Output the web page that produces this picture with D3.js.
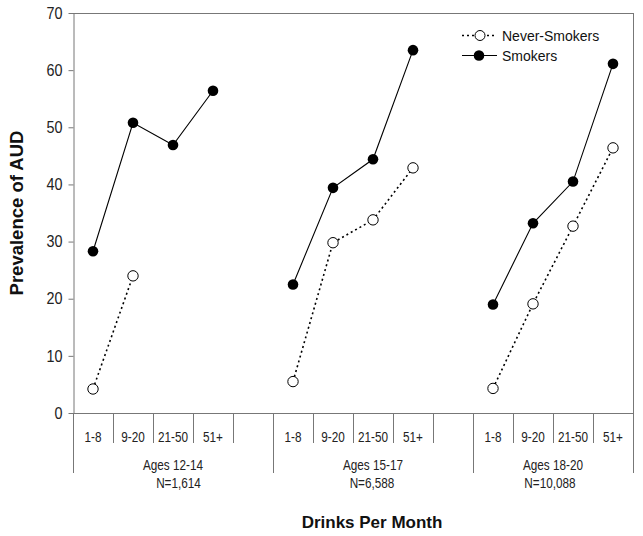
<!DOCTYPE html>
<html><head><meta charset="utf-8">
<script src="https://cdn.jsdelivr.net/npm/d3@7"></script>
<style>body{margin:0;background:#fff}svg{display:block;font-family:Arial,"Liberation Sans",sans-serif}</style>
</head><body><svg id="c" width="643" height="536"></svg>
<script>
const groups = ["Ages 12-14","Ages 15-17","Ages 18-20"];
const groupN = ["N=1,614","N=6,588","N=10,088"];
const categories = ["1-8","9-20","21-50","51+"];
const smokers = [[28.3,50.8,46.9,56.4],[22.5,39.4,44.4,63.5],[19.0,33.2,40.5,61.1]];
const neverSmokers = [[4.2,24.0,null,null],[5.5,29.8,33.8,42.9],[4.3,19.1,32.7,46.4]];
const yTicks = [0,10,20,30,40,50,60,70];

const svg = d3.select("#c");
const L=73,R=633,T=13,B=413;
const slotIdx = (g,i)=> g*5+i;
const x = d3.scaleBand().domain(d3.range(14)).range([L,R]).paddingInner(0).paddingOuter(0);
const y = d3.scaleLinear().domain([0,70]).range([B,T]);
const grey="#777";
function squeeze(sel,k){
  sel.each(function(){const w=this.getComputedTextLength();d3.select(this).attr("textLength",w*k).attr("lengthAdjust","spacingAndGlyphs");});
}

// frame
svg.append("line").attr("x1",L).attr("x2",R).attr("y1",T+0.5).attr("y2",T+0.5).attr("stroke",grey);
svg.append("line").attr("x1",R+0.5).attr("x2",R+0.5).attr("y1",T).attr("y2",B).attr("stroke",grey);

// y axis
const ya = svg.append("g").attr("transform",`translate(${L+0.5},0)`)
  .call(d3.axisLeft(y).tickValues(yTicks).tickSize(5).tickPadding(6).tickSizeOuter(0));
ya.select(".domain").attr("stroke",grey);
ya.selectAll(".tick line").attr("stroke",grey);
ya.selectAll("text").attr("font-size",16.5).attr("fill","#222").attr("font-family","Arial,'Liberation Sans',sans-serif").call(squeeze,0.87);

// x axis baseline
svg.append("line").attr("x1",L).attr("x2",R).attr("y1",B+0.5).attr("y2",B+0.5).attr("stroke",grey);

// separators
const majors=[0,5,10,14];
const xAt = s => s<14 ? x(s) : R;
for(let s=0;s<=14;s++){
  const xp = xAt(s);
  const major = majors.includes(s);
  svg.append("line").attr("x1",Math.round(xp)+0.5).attr("x2",Math.round(xp)+0.5)
    .attr("y1",B).attr("y2",major?473:443).attr("stroke",grey);
}
// category labels
groups.forEach((g,gi)=>{
  categories.forEach((c,ci)=>{
    svg.append("text").attr("x",x(slotIdx(gi,ci))+x.bandwidth()/2).attr("y",442)
      .attr("text-anchor","middle").attr("font-size",14.5).attr("fill","#222").text(c).call(squeeze,0.81);
  });
  const cx = (xAt(majors[gi])+xAt(majors[gi+1]))/2;
  svg.append("text").attr("x",cx).attr("y",470).attr("text-anchor","middle").attr("font-size",14.5).attr("fill","#222").text(g).call(squeeze,0.81);
  svg.append("text").attr("x",cx+[5.5,-1,-3][gi]).attr("y",488).attr("text-anchor","middle").attr("font-size",14.5).attr("fill","#222").text(groupN[gi]).call(squeeze,0.81);
});

// titles
svg.append("text").attr("transform","translate(23,213) rotate(-90)").attr("text-anchor","middle")
  .attr("font-size",18.5).attr("font-weight","bold").attr("fill","#111").text("Prevalence of AUD");
svg.append("text").attr("x",372).attr("y",528).attr("text-anchor","middle")
  .attr("font-size",17).attr("font-weight","bold").attr("fill","#111").text("Drinks Per Month");

// series
const line = d3.line().defined(d=>d.v!=null).x(d=>x(d.s)+x.bandwidth()/2).y(d=>y(d.v));
function pts(arr,gi){return arr[gi].map((v,i)=>({s:slotIdx(gi,i),v}));}
groups.forEach((g,gi)=>{
  const np = pts(neverSmokers,gi), sp = pts(smokers,gi);
  svg.append("path").attr("d",line(np)).attr("fill","none").attr("stroke","#000").attr("stroke-width",1.6).attr("stroke-dasharray","2,3");
  svg.append("path").attr("d",line(sp)).attr("fill","none").attr("stroke","#000").attr("stroke-width",1.1);
  svg.selectAll(null).data(np.filter(d=>d.v!=null)).enter().append("circle")
    .attr("cx",d=>x(d.s)+x.bandwidth()/2).attr("cy",d=>y(d.v)).attr("r",5.2).attr("fill","#fff").attr("stroke","#000").attr("stroke-width",1);
  svg.selectAll(null).data(sp).enter().append("circle")
    .attr("cx",d=>x(d.s)+x.bandwidth()/2).attr("cy",d=>y(d.v)).attr("r",5.3).attr("fill","#000");
});

// legend
const lg = svg.append("g");
lg.append("line").attr("x1",462).attr("x2",496).attr("y1",35.5).attr("y2",35.5).attr("stroke","#000").attr("stroke-width",1.6).attr("stroke-dasharray","2,3");
lg.append("circle").attr("cx",480).attr("cy",35.5).attr("r",5).attr("fill","#fff").attr("stroke","#000");
lg.append("text").attr("x",502).attr("y",40.5).attr("font-size",14).attr("fill","#111").text("Never-Smokers");
lg.append("line").attr("x1",462).attr("x2",497).attr("y1",55.5).attr("y2",55.5).attr("stroke","#000").attr("stroke-width",1.1);
lg.append("circle").attr("cx",479).attr("cy",55.5).attr("r",5.3).attr("fill","#000");
lg.append("text").attr("x",502).attr("y",60.5).attr("font-size",14).attr("fill","#111").text("Smokers");
</script></body></html>
